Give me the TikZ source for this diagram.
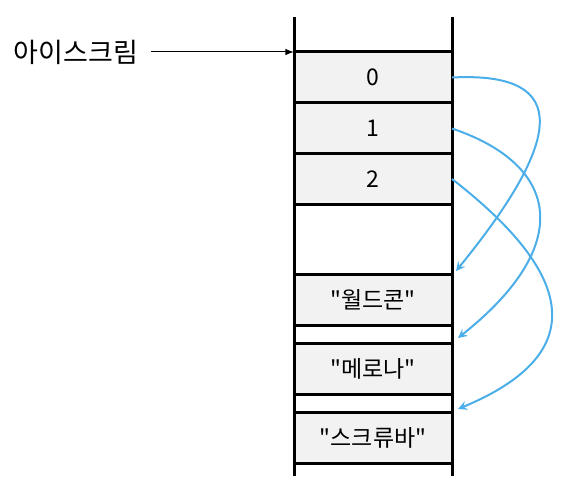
\documentclass[tikz,border=0pt]{standalone}
\usepackage{fontspec}
\newfontfamily\kr{Noto Sans CJK KR}
\definecolor{cellgray}{HTML}{F2F2F2}
\definecolor{linkblue}{HTML}{4BAEE8}

\begin{document}
\begin{tikzpicture}[x=0.5pt,y=-0.5pt,
	cell/.style={draw,fill=cellgray,line width=1.5pt,outer sep=0pt,inner sep=0pt,
		minimum width=79pt,minimum height=25.5pt,font=\kr\fontsize{11.5}{13}\selectfont},
	link/.style={linkblue,line width=1pt,-stealth}]
	\useasboundingbox (0,0) rectangle (566,486);
	% the cells
	\node[cell] (c0) at (373,77.5) {0};
	\node[cell] (c1) at (373,128.5) {1};
	\node[cell] (c2) at (373,179) {2};
	\node[cell] (s0) at (373,300) {"월드콘"};
	\node[cell] (s1) at (373,369) {"메로나"};
	\node[cell] (s2) at (373,437.5) {"스크류바"};
	\draw[line width=1.5pt] (294,17) -- (294,476);
	\draw[line width=1.5pt] (452,17) -- (452,476);
	% the name
	\node[font=\kr\fontsize{13.5}{16}\selectfont,outer sep=3pt] (ice) at (76,52) {아이스크림};
	\draw[-latex,line width=0.5pt] (ice) -- (c0.north west);
	% the links
	\coordinate (g0) at (456,271);
	\coordinate (g1) at (458,338);
	\coordinate (g2) at (458,409);
	\draw[link] (c0.east) .. controls (560,72) and (575,125) .. (g0);
	\draw[link] (c1.east) .. controls (560,165) and (575,245) .. (g1);
	\draw[link] (c2.east) .. controls (550,255) and (612,345) .. (g2);
\end{tikzpicture}
\end{document}
